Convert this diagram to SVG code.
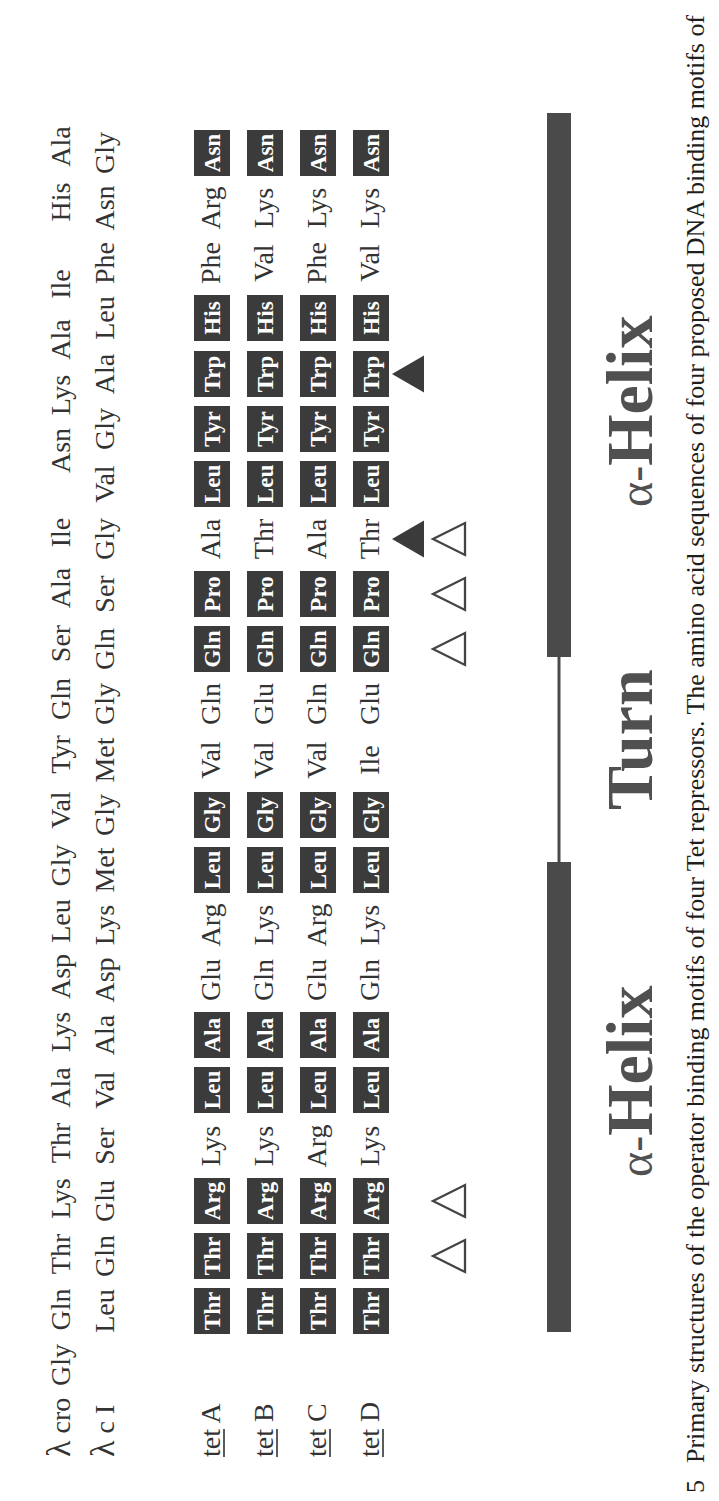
<svg xmlns="http://www.w3.org/2000/svg" width="719" height="1501" viewBox="0 0 719 1501">
<style>
.t{font-family:"Liberation Serif","Times New Roman",serif;font-size:28px;fill:#333;text-anchor:middle}
.l{font-family:"Liberation Serif","Times New Roman",serif;font-size:28px;fill:#333}
.bx{fill:#3b3b3b}
.bt{font-family:"Liberation Serif","Times New Roman",serif;font-size:23px;font-weight:bold;fill:#fff;text-anchor:middle}
.ot{fill:none;stroke:#444;stroke-width:2.3;stroke-linejoin:miter}
.ft{fill:#3b3b3b}
.bar{fill:#4a4a4a}
.big{font-family:"Liberation Serif","Times New Roman",serif;font-size:66px;font-weight:bold;fill:#505050}
.gr{font-family:"Liberation Serif","Times New Roman",serif;font-size:48px;fill:#505050}
.cap{font-family:"Liberation Serif","Times New Roman",serif;font-size:26px;fill:#1e1e1e}
.ul{stroke:#333;stroke-width:1.6}
</style>
<rect width="719" height="1501" fill="#fff"/>
<g transform="translate(0,1501) rotate(-90)">
<g id="lambda-cro">
<text class="l" x="44" y="70"><tspan font-size="34">λ</tspan> cro</text>
<text class="t" x="136" y="70">Gly</text><text class="t" x="191.5" y="70">Gln</text><text class="t" x="247" y="70">Thr</text><text class="t" x="302.5" y="70">Lys</text><text class="t" x="358" y="70">Thr</text><text class="t" x="413.5" y="70">Ala</text><text class="t" x="469" y="70">Lys</text><text class="t" x="524.5" y="70">Asp</text><text class="t" x="580" y="70">Leu</text><text class="t" x="635.5" y="70">Gly</text><text class="t" x="691" y="70">Val</text><text class="t" x="746.5" y="70">Tyr</text><text class="t" x="802" y="70">Gln</text><text class="t" x="857.5" y="70">Ser</text><text class="t" x="913" y="70">Ala</text><text class="t" x="968.5" y="70">Ile</text><text class="t" x="1050.5" y="70">Asn</text><text class="t" x="1106" y="70">Lys</text><text class="t" x="1161.5" y="70">Ala</text><text class="t" x="1217" y="70">Ile</text><text class="t" x="1299" y="70">His</text><text class="t" x="1354.5" y="70">Ala</text>
</g>
<g id="lambda-cI">
<text class="l" x="44" y="114"><tspan font-size="34">λ</tspan> c I</text>
<text class="t" x="190" y="114">Leu</text><text class="t" x="245" y="114">Gln</text><text class="t" x="300" y="114">Glu</text><text class="t" x="355" y="114">Ser</text><text class="t" x="411" y="114">Val</text><text class="t" x="466" y="114">Ala</text><text class="t" x="521" y="114">Asp</text><text class="t" x="576" y="114">Lys</text><text class="t" x="631" y="114">Met</text><text class="t" x="686" y="114">Gly</text><text class="t" x="741" y="114">Met</text><text class="t" x="797" y="114">Gly</text><text class="t" x="852" y="114">Gln</text><text class="t" x="907" y="114">Ser</text><text class="t" x="962" y="114">Gly</text><text class="t" x="1017" y="114">Val</text><text class="t" x="1072" y="114">Gly</text><text class="t" x="1127" y="114">Ala</text><text class="t" x="1183" y="114">Leu</text><text class="t" x="1238" y="114">Phe</text><text class="t" x="1293" y="114">Asn</text><text class="t" x="1348" y="114">Gly</text>
</g>
<g id="tetA">
<text class="l" x="44" y="220">tet A</text><line class="ul" x1="44" y1="224" x2="72" y2="224"/>
<rect class="bx" x="167" y="194" width="46" height="36"/><text class="bt" x="190" y="220">Thr</text>
<rect class="bx" x="222" y="194" width="46" height="36"/><text class="bt" x="245" y="220">Thr</text>
<rect class="bx" x="277" y="194" width="46" height="36"/><text class="bt" x="300" y="220">Arg</text>
<text class="t" x="355" y="220">Lys</text>
<rect class="bx" x="388" y="194" width="46" height="36"/><text class="bt" x="411" y="220">Leu</text>
<rect class="bx" x="443" y="194" width="46" height="36"/><text class="bt" x="466" y="220">Ala</text>
<text class="t" x="521" y="220">Glu</text><text class="t" x="576" y="220">Arg</text>
<rect class="bx" x="608" y="194" width="46" height="36"/><text class="bt" x="631" y="220">Leu</text>
<rect class="bx" x="663" y="194" width="46" height="36"/><text class="bt" x="686" y="220">Gly</text>
<text class="t" x="741" y="220">Val</text><text class="t" x="797" y="220">Gln</text>
<rect class="bx" x="829" y="194" width="46" height="36"/><text class="bt" x="852" y="220">Gln</text>
<rect class="bx" x="884" y="194" width="46" height="36"/><text class="bt" x="907" y="220">Pro</text>
<text class="t" x="962" y="220">Ala</text>
<rect class="bx" x="994" y="194" width="46" height="36"/><text class="bt" x="1017" y="220">Leu</text>
<rect class="bx" x="1049" y="194" width="46" height="36"/><text class="bt" x="1072" y="220">Tyr</text>
<rect class="bx" x="1104" y="194" width="46" height="36"/><text class="bt" x="1127" y="220">Trp</text>
<rect class="bx" x="1160" y="194" width="46" height="36"/><text class="bt" x="1183" y="220">His</text>
<text class="t" x="1238" y="220">Phe</text><text class="t" x="1293" y="220">Arg</text>
<rect class="bx" x="1325" y="194" width="46" height="36"/><text class="bt" x="1348" y="220">Asn</text>
</g>
<g id="tetB">
<text class="l" x="44" y="273">tet B</text><line class="ul" x1="44" y1="277" x2="72" y2="277"/>
<rect class="bx" x="167" y="247" width="46" height="36"/><text class="bt" x="190" y="273">Thr</text>
<rect class="bx" x="222" y="247" width="46" height="36"/><text class="bt" x="245" y="273">Thr</text>
<rect class="bx" x="277" y="247" width="46" height="36"/><text class="bt" x="300" y="273">Arg</text>
<text class="t" x="355" y="273">Lys</text>
<rect class="bx" x="388" y="247" width="46" height="36"/><text class="bt" x="411" y="273">Leu</text>
<rect class="bx" x="443" y="247" width="46" height="36"/><text class="bt" x="466" y="273">Ala</text>
<text class="t" x="521" y="273">Gln</text><text class="t" x="576" y="273">Lys</text>
<rect class="bx" x="608" y="247" width="46" height="36"/><text class="bt" x="631" y="273">Leu</text>
<rect class="bx" x="663" y="247" width="46" height="36"/><text class="bt" x="686" y="273">Gly</text>
<text class="t" x="741" y="273">Val</text><text class="t" x="797" y="273">Glu</text>
<rect class="bx" x="829" y="247" width="46" height="36"/><text class="bt" x="852" y="273">Gln</text>
<rect class="bx" x="884" y="247" width="46" height="36"/><text class="bt" x="907" y="273">Pro</text>
<text class="t" x="962" y="273">Thr</text>
<rect class="bx" x="994" y="247" width="46" height="36"/><text class="bt" x="1017" y="273">Leu</text>
<rect class="bx" x="1049" y="247" width="46" height="36"/><text class="bt" x="1072" y="273">Tyr</text>
<rect class="bx" x="1104" y="247" width="46" height="36"/><text class="bt" x="1127" y="273">Trp</text>
<rect class="bx" x="1160" y="247" width="46" height="36"/><text class="bt" x="1183" y="273">His</text>
<text class="t" x="1238" y="273">Val</text><text class="t" x="1293" y="273">Lys</text>
<rect class="bx" x="1325" y="247" width="46" height="36"/><text class="bt" x="1348" y="273">Asn</text>
</g>
<g id="tetC">
<text class="l" x="44" y="326">tet C</text><line class="ul" x1="44" y1="330" x2="72" y2="330"/>
<rect class="bx" x="167" y="300" width="46" height="36"/><text class="bt" x="190" y="326">Thr</text>
<rect class="bx" x="222" y="300" width="46" height="36"/><text class="bt" x="245" y="326">Thr</text>
<rect class="bx" x="277" y="300" width="46" height="36"/><text class="bt" x="300" y="326">Arg</text>
<text class="t" x="355" y="326">Arg</text>
<rect class="bx" x="388" y="300" width="46" height="36"/><text class="bt" x="411" y="326">Leu</text>
<rect class="bx" x="443" y="300" width="46" height="36"/><text class="bt" x="466" y="326">Ala</text>
<text class="t" x="521" y="326">Glu</text><text class="t" x="576" y="326">Arg</text>
<rect class="bx" x="608" y="300" width="46" height="36"/><text class="bt" x="631" y="326">Leu</text>
<rect class="bx" x="663" y="300" width="46" height="36"/><text class="bt" x="686" y="326">Gly</text>
<text class="t" x="741" y="326">Val</text><text class="t" x="797" y="326">Gln</text>
<rect class="bx" x="829" y="300" width="46" height="36"/><text class="bt" x="852" y="326">Gln</text>
<rect class="bx" x="884" y="300" width="46" height="36"/><text class="bt" x="907" y="326">Pro</text>
<text class="t" x="962" y="326">Ala</text>
<rect class="bx" x="994" y="300" width="46" height="36"/><text class="bt" x="1017" y="326">Leu</text>
<rect class="bx" x="1049" y="300" width="46" height="36"/><text class="bt" x="1072" y="326">Tyr</text>
<rect class="bx" x="1104" y="300" width="46" height="36"/><text class="bt" x="1127" y="326">Trp</text>
<rect class="bx" x="1160" y="300" width="46" height="36"/><text class="bt" x="1183" y="326">His</text>
<text class="t" x="1238" y="326">Phe</text><text class="t" x="1293" y="326">Lys</text>
<rect class="bx" x="1325" y="300" width="46" height="36"/><text class="bt" x="1348" y="326">Asn</text>
</g>
<g id="tetD">
<text class="l" x="44" y="379">tet D</text><line class="ul" x1="44" y1="383" x2="72" y2="383"/>
<rect class="bx" x="167" y="353" width="46" height="36"/><text class="bt" x="190" y="379">Thr</text>
<rect class="bx" x="222" y="353" width="46" height="36"/><text class="bt" x="245" y="379">Thr</text>
<rect class="bx" x="277" y="353" width="46" height="36"/><text class="bt" x="300" y="379">Arg</text>
<text class="t" x="355" y="379">Lys</text>
<rect class="bx" x="388" y="353" width="46" height="36"/><text class="bt" x="411" y="379">Leu</text>
<rect class="bx" x="443" y="353" width="46" height="36"/><text class="bt" x="466" y="379">Ala</text>
<text class="t" x="521" y="379">Gln</text><text class="t" x="576" y="379">Lys</text>
<rect class="bx" x="608" y="353" width="46" height="36"/><text class="bt" x="631" y="379">Leu</text>
<rect class="bx" x="663" y="353" width="46" height="36"/><text class="bt" x="686" y="379">Gly</text>
<text class="t" x="741" y="379">Ile</text><text class="t" x="797" y="379">Glu</text>
<rect class="bx" x="829" y="353" width="46" height="36"/><text class="bt" x="852" y="379">Gln</text>
<rect class="bx" x="884" y="353" width="46" height="36"/><text class="bt" x="907" y="379">Pro</text>
<text class="t" x="962" y="379">Thr</text>
<rect class="bx" x="994" y="353" width="46" height="36"/><text class="bt" x="1017" y="379">Leu</text>
<rect class="bx" x="1049" y="353" width="46" height="36"/><text class="bt" x="1072" y="379">Tyr</text>
<rect class="bx" x="1104" y="353" width="46" height="36"/><text class="bt" x="1127" y="379">Trp</text>
<rect class="bx" x="1160" y="353" width="46" height="36"/><text class="bt" x="1183" y="379">His</text>
<text class="t" x="1238" y="379">Val</text><text class="t" x="1293" y="379">Lys</text>
<rect class="bx" x="1325" y="353" width="46" height="36"/><text class="bt" x="1348" y="379">Asn</text>
</g>
<g id="markers">
<polygon class="ft" points="962,392 943.5,424 980.5,424"/>
<polygon class="ft" points="1127,392 1108.5,424 1145.5,424"/>
<polygon class="ot" points="245,433 229,465 261,465"/>
<polygon class="ot" points="300,433 284,465 316,465"/>
<polygon class="ot" points="852,433 836,465 868,465"/>
<polygon class="ot" points="907,433 891,465 923,465"/>
<polygon class="ot" points="962,433 946,465 978,465"/>
</g>
<g id="structure">
<rect class="bar" x="169" y="547" width="470" height="24"/>
<rect class="bar" x="844" y="547" width="544" height="24"/>
<line x1="639" y1="559" x2="844" y2="559" stroke="#4a4a4a" stroke-width="3"/>
</g>
<g id="labels">
<text x="324" y="652"><tspan class="gr">α-</tspan><tspan class="big">Helix</tspan></text>
<text class="big" x="691" y="652">Turn</text>
<text x="994" y="652"><tspan class="gr">α-</tspan><tspan class="big">Helix</tspan></text>
</g>
<g id="caption">
<text class="cap" x="8" y="704">5</text>
<text class="cap" x="38" y="704" textLength="1448" lengthAdjust="spacingAndGlyphs">Primary structures of the operator binding motifs of four Tet repressors. The amino acid sequences of four proposed DNA binding motifs of</text>
</g>
</g>
</svg>
